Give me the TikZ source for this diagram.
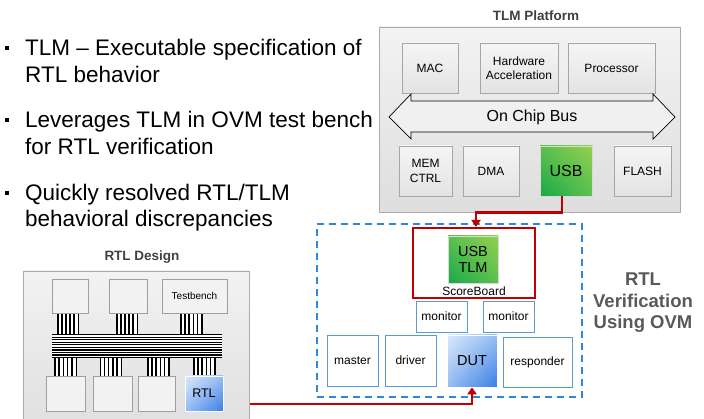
\documentclass[tikz,border=0pt]{standalone}
\usepackage{fontspec}
\setmainfont{Liberation Sans}
\usetikzlibrary{arrows.meta,shadings}
\pgfdeclarelayer{bg}
\pgfsetlayers{bg,main}
\definecolor{redc}{HTML}{C00000}
\definecolor{dashblue}{HTML}{2E86DE}
\definecolor{boxblue}{HTML}{5B9BD5}
\definecolor{titlec}{HTML}{404040}
\definecolor{ovmc}{HTML}{595959}
\definecolor{gA}{HTML}{92D050}
\definecolor{gB}{HTML}{17A84A}
\definecolor{gM}{HTML}{5CC04E}
\definecolor{bA}{HTML}{DCE9FB}
\definecolor{bB}{HTML}{3A7DE6}
\definecolor{bM}{HTML}{96BDF2}
\newcommand\vbundle[4]{%
  \fill[white] (#1,#3) rectangle (#2,#4);
  \foreach \i in {0,...,5}{\draw[line width=1.5pt] ({#1+0.75+\i*(#2-#1-1.5)/5},#3) -- ({#1+0.75+\i*(#2-#1-1.5)/5},#4);}}
\tikzset{
  txt/.style 2 args={font=\fontsize{#1}{#2}\selectfont},
  bullettext/.style={txt={22.5}{27}, inner sep=0pt, anchor=base west},
  ttl/.style={font=\fontsize{13.5}{15}\selectfont\bfseries, text=titlec, inner sep=0pt},
  platbox/.style={rectangle, draw=gray!65, line width=0.8pt, top color=gray!10, bottom color=gray!26, inner sep=0pt},
  gbox/.style={rectangle, draw=gray!70, line width=0.7pt, top color=gray!8, bottom color=gray!22, align=center, inner sep=0pt, txt={12}{13.8}},
  lbox/.style={rectangle, draw=gray!75, line width=0.7pt, fill=gray!10, align=center, inner sep=0pt, txt={10}{12}},
  greenbox/.style={rectangle, draw=gray!30, line width=0.6pt, align=center, inner sep=0pt,
    upper right=gA, lower left=gB, upper left=gM, lower right=gM},
  bluebox/.style={rectangle, draw=white, line width=0.6pt, align=center, inner sep=0pt,
    upper left=bA, lower right=bB, upper right=bM, lower left=bM},
  wbox/.style={rectangle, draw=boxblue, line width=0.9pt, fill=white, align=center, inner sep=0pt, txt={12}{13.8}},
  verbox/.style={rectangle, draw=dashblue, line width=2pt, dash pattern=on 7pt off 5pt, inner sep=0pt},
  redbox/.style={rectangle, draw=redc, line width=2pt, inner sep=0pt},
  redline/.style={draw=redc, line width=2.5pt, -{Triangle[width=9pt,length=7pt]}},
  busarrow/.style={draw=black, line width=0.7pt, fill=gray!12, line join=miter}
}
\begin{document}
\begin{tikzpicture}[x=1pt,y=-1pt]
\useasboundingbox (0,0) rectangle (704,419);
\clip (0,0) rectangle (704,419);

% bullets
\foreach \y in {48,120,193}{\fill ({5},{\y-2}) rectangle ({9},{\y+2});}
\node[bullettext] (l1) at (25,56) {TLM – Executable specification of};
\node[bullettext] (l2) at (25,83) {RTL behavior};
\node[bullettext] (l3) at (25,128) {Leverages TLM in OVM test bench};
\node[bullettext] (l4) at (25,155) {for RTL verification};
\node[bullettext] (l5) at (25,201) {Quickly resolved RTL/TLM};
\node[bullettext] (l6) at (25,227) {behavioral discrepancies};

% TLM platform
\node[platbox, minimum width=301pt, minimum height=185pt] (plat) at (529.5,119.5) {};
\node[ttl] (plattitle) at (536,16) {TLM Platform};
\node[gbox, minimum width=56pt, minimum height=50pt] (mac) at (430,68) {MAC};
\node[gbox, minimum width=78pt, minimum height=50pt] (hw) at (519,68) {Hardware\\Acceleration};
\node[gbox, minimum width=87pt, minimum height=50pt] (proc) at (611.5,68) {Processor};
\draw[busarrow] (389,117) -- (411,94) -- (411,101) -- (653,101) -- (653,94) -- (675,117)
  -- (653,139) -- (653,132) -- (411,132) -- (411,139) -- cycle;
\node[txt={16}{18}, inner sep=0pt] (busl) at (532,117) {On Chip Bus};
\node[gbox, minimum width=53pt, minimum height=50pt, txt={12}{14.3}] (mem) at (425.5,171) {MEM\\CTRL};
\node[gbox, minimum width=56pt, minimum height=50pt] (dma) at (491,171) {DMA};
\node[greenbox, minimum width=52pt, minimum height=50pt, txt={16}{18}] (usb) at (566,171) {USB};
\node[gbox, minimum width=57pt, minimum height=50pt] (flash) at (642.5,171) {FLASH};

% RTL verification
\node[verbox, minimum width=265pt, minimum height=173pt] (ver) at (449.5,310.5) {};
\node[redbox, minimum width=122pt, minimum height=70pt] (sb) at (474,263) {};
\node[greenbox, minimum width=50pt, minimum height=47pt, txt={14.5}{16.7}] (usbtlm) at (473,259.5) {USB\\TLM};
\node[txt={12}{14}, inner sep=0pt] (sbl) at (474,291) {ScoreBoard};
\node[wbox, minimum width=51pt, minimum height=31pt] (mon1) at (441.5,316.5) {monitor};
\node[wbox, minimum width=51pt, minimum height=31pt] (mon2) at (508.5,316.5) {monitor};
\node[wbox, minimum width=51pt, minimum height=51pt] (master) at (352.5,360.5) {master};
\node[wbox, minimum width=51pt, minimum height=51pt] (driver) at (410.5,360.5) {driver};
\node[bluebox, minimum width=50pt, minimum height=52pt, txt={14.5}{16}] (dut) at (472,361) {DUT};
\node[wbox, minimum width=69pt, minimum height=50pt] (resp) at (537.5,362) {responder};
\node[align=center, text=ovmc, font=\fontsize{18.5}{21.5}\selectfont\bfseries, inner sep=0pt] (ovm) at (643,303) {RTL\\Verification\\Using OVM};

% RTL design
\node[platbox, minimum width=226pt, minimum height=170pt] (rtld) at (136,356) {};
\node[ttl] (rtltitle) at (142,257) {RTL Design};
\vbundle{57}{79}{313}{334}
\vbundle{116}{138}{313}{334}
\vbundle{180}{202.5}{313}{334}
\vbundle{54}{77}{357.5}{376}
\vbundle{99.5}{122}{357.5}{376}
\vbundle{147}{169.5}{357.5}{376}
\vbundle{193}{215.5}{357.5}{376}
\fill[white] (52,334) rectangle (222,358);
\foreach \i in {0,...,9}{\draw[line width=1.35pt] (52,{334.7+\i*2.53}) -- (222,{334.7+\i*2.53});}
\node[lbox, minimum width=36pt, minimum height=34pt] (t1) at (70,296) {};
\node[lbox, minimum width=38pt, minimum height=34pt] (t2) at (128,296) {};
\node[lbox, minimum width=65pt, minimum height=34pt] (tb) at (194.5,296) {Testbench};
\node[lbox, minimum width=39pt, minimum height=35pt] (b1) at (65.5,393.5) {};
\node[lbox, minimum width=39pt, minimum height=35pt] (b2) at (112.5,393.5) {};
\node[lbox, minimum width=37pt, minimum height=35pt] (b3) at (156.5,393.5) {};
\node[bluebox, minimum width=38pt, minimum height=35pt, txt={12.5}{14}] (rtl) at (204,393.5) {RTL};

% connectors
\draw[redline] ([xshift=-4pt]usb.south) -- ++(0,16) -| ([xshift=2pt]sb.north);
\begin{pgfonlayer}{bg}
\draw[redline] ([yshift=-10.5pt]rtl.east) -| (dut.south);
\end{pgfonlayer}
\end{tikzpicture}
\end{document}
